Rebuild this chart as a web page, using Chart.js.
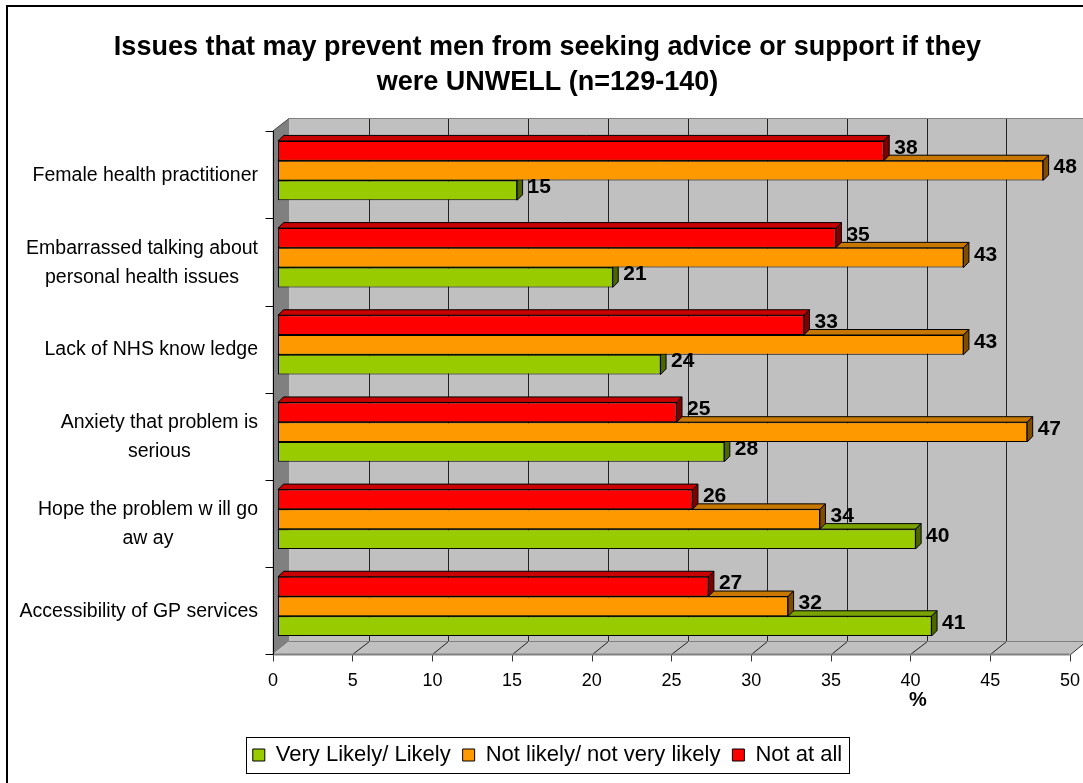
<!DOCTYPE html>
<html>
<head>
<meta charset="utf-8">
<script src="https://cdn.jsdelivr.net/npm/chart.js@4.4.0/dist/chart.umd.min.js"></script>
<style>
  html, body { margin: 0; padding: 0; background: #fff; }
</style>
</head>
<body>
<canvas id="chart" width="1083" height="783"></canvas>
<script>
// data
const categories = [
  ["Female health practitioner"],
  ["Embarrassed talking about", "personal health issues"],
  ["Lack of NHS know ledge"],
  ["Anxiety that problem is", "serious"],
  ["Hope the problem w ill go", "aw ay"],
  ["Accessibility of GP services"],
];
const veryLikely = [15, 21, 24, 28, 40, 41];
const notLikely = [48, 43, 43, 47, 34, 32];
const notAtAll = [38, 35, 33, 25, 26, 27];
const seriesNames = ["Not at all", "Not likely/ not very likely", "Very Likely/ Likely"];
const xMin = 0;
const xMax = 50;
const xStep = 5;

const FONT = "'Liberation Sans', Arial, sans-serif";
const faceColors = [
  { front: "#ff0000", top: "#c80000", side: "#800000" },
  { front: "#ff9900", top: "#c87800", side: "#7f4c00" },
  { front: "#99cc00", top: "#7aa300", side: "#4c6600" },
];

// 3D offsets relative to the bar plane (chart area)
const F = { dx: -5.3, dy: 4.2 };
const B = { dx: 11, dy: -8.8 };
const BAR_DEPTH = 5.5;

function poly(ctx, pts, fill, stroke) {
  ctx.beginPath();
  ctx.moveTo(pts[0][0], pts[0][1]);
  for (let i = 1; i < pts.length; i++) ctx.lineTo(pts[i][0], pts[i][1]);
  ctx.closePath();
  if (fill) { ctx.fillStyle = fill; ctx.fill(); }
  if (stroke) { ctx.strokeStyle = stroke; ctx.lineWidth = 1; ctx.stroke(); }
}

function line(ctx, x1, y1, x2, y2, color) {
  ctx.beginPath();
  ctx.moveTo(x1, y1);
  ctx.lineTo(x2, y2);
  ctx.strokeStyle = color;
  ctx.lineWidth = 1;
  ctx.stroke();
}

const wallsPlugin = {
  id: "walls",
  beforeDraw(chart) {
    const { ctx, chartArea: a } = chart;
    const xs = chart.scales.x;
    ctx.save();
    ctx.fillStyle = "#fff";
    ctx.fillRect(0, 0, chart.width, chart.height);

    const fL = a.left + F.dx, fR = a.right + F.dx;
    const fT = a.top + F.dy, fB = Math.round(a.bottom + F.dy) + 0.5;
    const bL = a.left + B.dx, bR = a.right + B.dx;
    const bT = Math.round(a.top + B.dy) + 0.5, bB = Math.round(a.bottom + B.dy) + 0.5;

    // back wall, side wall, floor
    ctx.fillStyle = "#c0c0c0";
    ctx.fillRect(bL, bT, chart.width - bL, bB - bT);
    poly(ctx, [[fL, fT], [bL, bT], [bL, bB], [fL, fB]], "#808080");
    poly(ctx, [[fL, fB], [bL, bB], [bR, bB], [fR, fB]], "#c0c0c0");

    // grid lines on the back wall and floor, ticks on the front axis
    for (let v = xMin; v <= xMax; v += xStep) {
      const px = xs.getPixelForValue(v);
      const fx = Math.round(px + F.dx) + 0.5;
      const bx = Math.round(px + B.dx) + 0.5;
      if (v > xMin) {
        line(ctx, bx, bT, bx, bB, "#222");
        line(ctx, fx, fB, bx, bB, "#222");
      }
      line(ctx, fx, fB, fx, fB + 7, "#333");
    }

    line(ctx, bL, bT, chart.width, bT, "#808080");
    line(ctx, bL, bB, chart.width, bB, "#808080");
    ctx.lineWidth = 2;
    ctx.strokeStyle = "#808080";
    ctx.beginPath(); ctx.moveTo(fL, fB); ctx.lineTo(fR, fB); ctx.stroke();
    ctx.lineWidth = 1;
    line(ctx, fL, fT, bL, bT, "#444");

    // left axis with category boundary ticks
    const lx = Math.round(fL) + 0.5;
    line(ctx, lx, fT, lx, fB, "#000");
    const band = (a.bottom - a.top) / categories.length;
    for (let k = 0; k <= categories.length; k++) {
      const yk = Math.round(a.top + k * band + F.dy) + 0.5;
      line(ctx, lx - 8, yk, lx, yk, "#000");
    }
    ctx.restore();
  },
  beforeDatasetsDraw(chart) {
    const { ctx } = chart;
    const d = BAR_DEPTH;
    ctx.save();
    [2, 1, 0].forEach((di) => {
      const meta = chart.getDatasetMeta(di);
      const c = faceColors[di];
      meta.data.forEach((bar) => {
        const { x, y, base, height } = bar.getProps(["x", "y", "base", "height"], true);
        const top = y - height / 2, bot = y + height / 2;
        poly(ctx, [[base, top], [base + d, top - d], [x + d, top - d], [x, top]], c.top, "#000");
        poly(ctx, [[x, top], [x + d, top - d], [x + d, bot - d], [x, bot]], c.side, "#000");
      });
    });
    ctx.restore();
  },
  afterDatasetsDraw(chart) {
    const { ctx } = chart;
    ctx.save();
    ctx.font = "bold 21px " + FONT;
    ctx.fillStyle = "#000";
    ctx.textAlign = "left";
    ctx.textBaseline = "middle";
    chart.data.datasets.forEach((ds, di) => {
      chart.getDatasetMeta(di).data.forEach((bar, i) => {
        const { x, y } = bar.getProps(["x", "y"], true);
        ctx.fillText(String(ds.data[i]), x + BAR_DEPTH + 5, y - 3);
      });
    });
    ctx.restore();
  },
  afterDraw(chart) {
    const { ctx } = chart;
    const ys = chart.scales.y;
    ctx.save();
    // category labels: block right aligned, lines centred in the block
    ctx.font = "19.5px " + FONT;
    ctx.fillStyle = "#000";
    ctx.textAlign = "center";
    ctx.textBaseline = "middle";
    const rightEdge = 258;
    const lh = 29;
    categories.forEach((lines, i) => {
      const cy = ys.getPixelForValue(i) + F.dy + 1;
      const w = Math.max(...lines.map((t) => ctx.measureText(t).width));
      lines.forEach((t, j) => {
        ctx.fillText(t, rightEdge - w / 2, cy + (j - (lines.length - 1) / 2) * lh);
      });
    });

    // axis unit
    ctx.font = "bold 20px " + FONT;
    ctx.fillText("%", 918, 700);

    // legend frame
    const hb = chart.legend.legendHitBoxes;
    if (hb && hb.length) {
      const last = hb[hb.length - 1];
      const cy = hb[0].top + hb[0].height / 2;
      const l = Math.round(hb[0].left - 7) + 0.5;
      const r = Math.round(last.left + last.width + 7) + 0.5;
      ctx.strokeStyle = "#000";
      ctx.lineWidth = 1;
      ctx.strokeRect(l, Math.round(cy - 18) + 0.5, r - l, 36);
    }

    // outer chart border
    ctx.lineWidth = 2;
    ctx.strokeStyle = "#000";
    ctx.strokeRect(7, 6, chart.width + 20, chart.height + 20);
    ctx.restore();
  },
};

const datasets = [notAtAll, notLikely, veryLikely].map((values, i) => ({
  label: seriesNames[i],
  data: values,
  backgroundColor: faceColors[i].front,
  borderColor: "#000",
  borderWidth: 1,
  borderSkipped: false,
  categoryPercentage: 0.68,
  barPercentage: 1.0,
}));

new Chart(document.getElementById("chart"), {
  type: "bar",
  data: { labels: categories, datasets: datasets },
  options: {
    indexAxis: "y",
    responsive: false,
    animation: false,
    layout: { padding: { left: 20, right: 8, top: 0, bottom: 7 } },
    scales: {
      x: {
        min: xMin,
        max: xMax,
        ticks: {
          stepSize: xStep,
          labelOffset: -5,
          padding: 20,
          color: "#000",
          font: { family: FONT, size: 18 },
        },
        grid: { display: false, drawTicks: false },
        border: { display: false },
        afterFit(s) {
          s.height = 82;
          s.paddingLeft = 0;
          s.paddingRight = 0;
        },
      },
      y: {
        ticks: { display: false },
        grid: { display: false, drawTicks: false },
        border: { display: false },
        afterFit(s) {
          s.width = 258;
        },
      },
    },
    plugins: {
      title: {
        display: true,
        text: [
          "Issues that may prevent men from seeking advice or support if they",
          "were UNWELL (n=129-140)",
        ],
        color: "#000",
        font: { family: FONT, size: 27, weight: "bold", lineHeight: 1.296 },
        padding: { top: 30, bottom: 27 },
      },
      legend: {
        position: "bottom",
        reverse: true,
        labels: {
          boxWidth: 12,
          boxHeight: 12,
          padding: 12,
          color: "#000",
          font: { family: FONT, size: 22 },
        },
      },
      tooltip: { enabled: false },
    },
  },
  plugins: [wallsPlugin],
});
</script>
</body>
</html>
